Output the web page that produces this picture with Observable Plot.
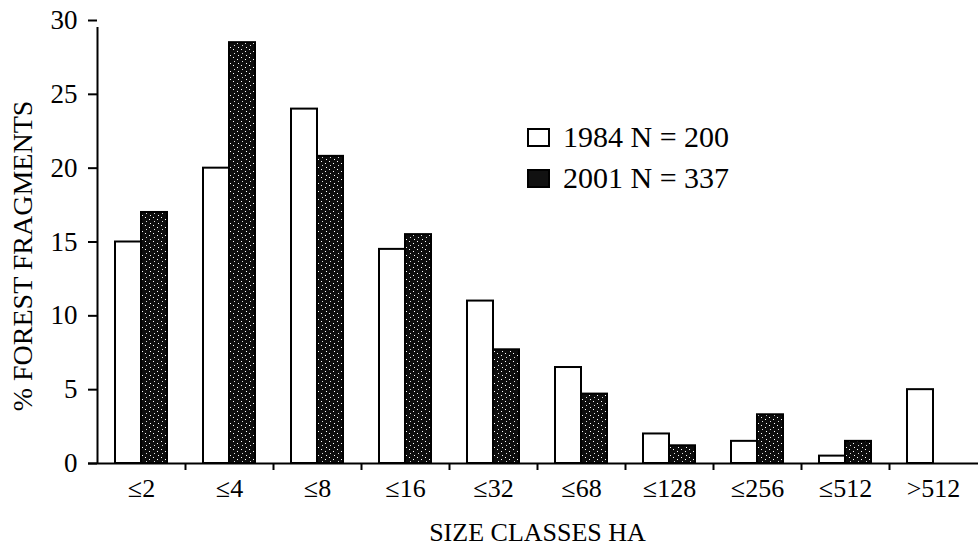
<!DOCTYPE html>
<html>
<head>
<meta charset="utf-8">
<script src="https://cdn.jsdelivr.net/npm/d3@7"></script>
<script src="https://cdn.jsdelivr.net/npm/@observablehq/plot@0.6"></script>
<style>
  html, body { margin: 0; padding: 0; background: #fff; }
  #wrap { position: relative; width: 978px; height: 547px; }
  .leg-row { position: absolute; display: flex; align-items: center; font-family: "Liberation Serif", serif; font-size: 30px; color: #000; white-space: pre; }
  .leg-sw { width: 19px; height: 15px; border: 2px solid #000; margin-right: 13px; box-sizing: content-box; }
</style>
</head>
<body>
<div id="wrap"></div>
<script>
const categories = ["≤2", "≤4", "≤8", "≤16", "≤32", "≤68", "≤128", "≤256", "≤512", ">512"];
const values1984 = [15, 20, 24, 14.5, 11, 6.5, 2, 1.5, 0.5, 5];
const values2001 = [17, 28.5, 20.8, 15.5, 7.7, 4.7, 1.2, 3.3, 1.5, 0];
const yTicks = [0, 5, 10, 15, 20, 25, 30];
const seriesNames = ["1984", "2001"];
const legendLabels = ["1984 N = 200", "2001 N = 337"];
const xTitle = "SIZE CLASSES HA";
const yTitle = "% FOREST FRAGMENTS";

const rows = [];
categories.forEach((c, i) => {
  rows.push({cat: c, year: seriesNames[0], value: values1984[i]});
  rows.push({cat: c, year: seriesNames[1], value: values2001[i]});
});
const d1984 = rows.filter(d => d.year === "1984" && d.value > 0);
const d2001 = rows.filter(d => d.year === "2001" && d.value > 0);

const font = "Liberation Serif, Times New Roman, serif";

const chart = Plot.plot({
  width: 978,
  height: 547,
  marginLeft: 97,
  marginRight: 1,
  marginTop: 20,
  marginBottom: 84,
  style: {fontFamily: font, fontSize: "26px", background: "#fff", color: "#000", overflow: "visible"},
  x: {domain: categories, padding: 0, label: null, axis: null},
  y: {domain: [0, 30], label: null, axis: null},
  marks: [
    Plot.barY(d1984, {x: "cat", y: "value", fill: "#fff", stroke: "#000", strokeWidth: 2, insetLeft: 18, insetRight: 44}),
    Plot.barY(d2001, {x: "cat", y: "value", fill: "url(#stipple)", stroke: "#000", strokeWidth: 2, insetLeft: 44, insetRight: 18}),
    // x axis line
    Plot.ruleY([0], {stroke: "#000", strokeWidth: 2, insetLeft: -9, insetRight: -1}),
    // y axis line
    Plot.ruleX([categories[0]], {y1: 0, y2: 30, dx: -44, stroke: "#000", strokeWidth: 2, insetBottom: -7}),
    // category boundary ticks
    Plot.ruleX(categories.slice(1), {y1: 0, y2: 0, dx: -44, stroke: "#000", strokeWidth: 2, insetBottom: -7}),
    Plot.axisY({ticks: yTicks, tickSize: 9, tickPadding: 11, tickFormat: d => String(d), fontSize: 27, strokeWidth: 2, label: null}),
    Plot.axisX({tickSize: 0, tickPadding: 15, fontSize: 26, label: null}),
    Plot.text([xTitle], {frameAnchor: "bottom", dy: 69, fontSize: 26, lineAnchor: "middle", textAnchor: "middle"}),
    Plot.text([yTitle], {frameAnchor: "left", dx: -74, dy: 14, rotate: -90, fontSize: 28, lineAnchor: "middle", textAnchor: "middle"})
  ]
});

chart.insertAdjacentHTML("afterbegin",
  '<defs><pattern id="stipple" width="8" height="8" patternUnits="userSpaceOnUse">' +
  '<rect width="8" height="8" fill="#0d0d0d"/>' +
  '<rect x="1" y="1" width="1" height="1" fill="#fff"/>' +
  '<rect x="5" y="3" width="1" height="1" fill="#fff"/>' +
  '<rect x="2" y="5" width="1" height="1" fill="#ddd"/>' +
  '<rect x="6" y="7" width="1" height="1" fill="#fff"/>' +
  '</pattern></defs>');

const wrap = document.getElementById("wrap");
wrap.appendChild(chart);

legendLabels.forEach((lab, i) => {
  const row = document.createElement("div");
  row.className = "leg-row";
  row.style.left = "527px";
  row.style.top = (120 + i * 41) + "px";
  const sw = document.createElement("div");
  sw.className = "leg-sw";
  sw.style.background = i === 0 ? "#fff" : "#111";
  const tx = document.createElement("span");
  tx.textContent = lab;
  row.appendChild(sw);
  row.appendChild(tx);
  wrap.appendChild(row);
});
</script>
</body>
</html>
